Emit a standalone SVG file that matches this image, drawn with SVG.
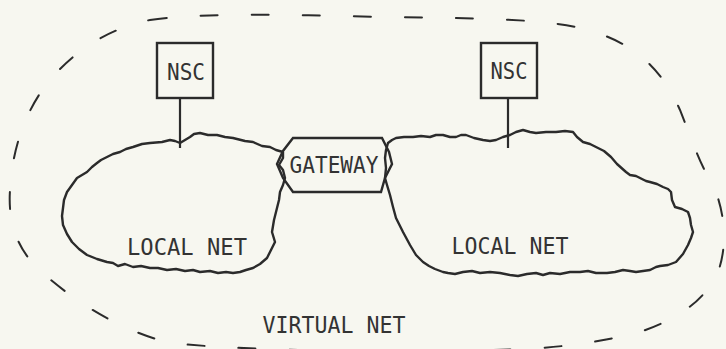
<svg xmlns="http://www.w3.org/2000/svg" width="726" height="349" viewBox="0 0 726 349">
<style>
.bg{fill:#f7f7f0}
.cloud{fill:none;stroke:#2b2b2b;stroke-width:2.4;stroke-linejoin:round;stroke-linecap:round}
.box{fill:none;stroke:#2b2b2b;stroke-width:2.4}
.dash{fill:none;stroke:#2b2b2b;stroke-width:2;stroke-dasharray:17 34;stroke-linecap:round}
.lbl{font-family:"DejaVu Sans Mono","Liberation Mono",monospace;font-size:23px;fill:#333;text-anchor:middle}
.conn{stroke:#2b2b2b;stroke-width:2.2}
</style>
<rect class="bg" x="0" y="0" width="726" height="349"/>
<g id="virtual-net">
<path class="dash" d="M150,20 C200,12 300,15 380,17 C460,18 540,18 580,28 C630,40 660,65 680,110 C692,140 700,165 712,183 C725,210 728,245 718,272 C705,300 680,318 640,332 C590,345 540,350 480,350 C400,352 260,352 170,343 C120,330 80,305 45,275 C15,250 8,220 10,190 C12,150 25,110 50,80 C75,50 110,28 150,20 Z"/>
<text class="lbl" x="334" y="333" textLength="143" lengthAdjust="spacingAndGlyphs">VIRTUAL NET</text>
</g>
<g id="local-net-left">
<path class="cloud" d="M283,152 L276,150 L270,147 L262,146 L253,142 L245,141 L233,138 L225,137 L217,135 L208,135 L200,133 L194,134 L190,137 L185,140 L180,143 L175,141 L170,140 L162,142 L150,143 L142,144 L133,147 L126,149 L120,152 L113,154 L107,157 L101,160 L97,163 L92,167 L87,172 L82,175 L77,178 L72,185 L67,192 L64,200 L63,208 L62,216 L63,225 L67,234 L72,242 L79,249 L87,255 L97,259 L107,262 L113,263 L118,266 L125,264 L133,267 L141,266 L150,268 L158,268 L167,270 L176,269 L185,271 L193,270 L200,272 L210,271 L218,273 L226,272 L233,273 L240,272 L246,270 L253,268 L260,264 L267,258 L271,250 L275,242 L272,232 L274,220 L277,208 L279,200 L280,192 L283,185 L285,178 L283,170 L279,165 L283,158 Z"/>
<text class="lbl" x="187" y="255" textLength="120" lengthAdjust="spacingAndGlyphs">LOCAL NET</text>
</g>
<g id="local-net-right">
<path class="cloud" d="M388,143 L392,140 L396,138 L404,137 L413,137 L421,136 L430,137 L436,135 L443,135 L450,137 L456,137 L461,135 L466,135 L474,138 L483,140 L490,141 L496,140 L503,137 L510,135 L516,132 L523,130 L530,132 L536,133 L546,132 L556,132 L565,131 L573,132 L577,137 L583,142 L590,144 L596,147 L604,151 L611,157 L617,164 L626,172 L630,175 L636,176 L640,178 L646,181 L650,182 L657,184 L663,187 L668,189 L671,192 L672,200 L675,207 L682,209 L688,212 L690,218 L691,225 L693,232 L691,238 L688,245 L683,254 L676,262 L668,265 L660,266 L656,267 L650,270 L643,271 L636,272 L630,271 L623,270 L615,272 L607,273 L596,273 L588,271 L580,272 L570,272 L560,274 L550,273 L543,275 L536,273 L527,274 L518,276 L510,275 L500,273 L490,272 L480,273 L472,271 L463,272 L455,274 L448,273 L443,272 L435,269 L429,266 L423,262 L416,255 L410,245 L403,232 L396,218 L393,207 L390,195 L387,185 L385,178 L386,168 L385,158 L386,150 Z"/>
<text class="lbl" x="510" y="254" textLength="117" lengthAdjust="spacingAndGlyphs">LOCAL NET</text>
</g>
<g id="gateway">
<path class="box" d="M293,138 L382,138 L389,152 L392,164 L385,178 L381,192 L293,192 L283,178 L277,164 L283,151 Z"/>
<text class="lbl" x="334" y="173" textLength="89" lengthAdjust="spacingAndGlyphs">GATEWAY</text>
</g>
<g id="nsc-left">
<rect class="box" x="157" y="43" width="56" height="55"/>
<text class="lbl" x="186" y="80" textLength="38" lengthAdjust="spacingAndGlyphs">NSC</text>
</g>
<g id="nsc-right">
<rect class="box" x="481" y="43" width="56" height="55"/>
<text class="lbl" x="509" y="79" textLength="37" lengthAdjust="spacingAndGlyphs">NSC</text>
</g>
<g id="connectors">
<line class="conn" x1="180" y1="98" x2="180" y2="148"/>
<line class="conn" x1="508" y1="98" x2="508" y2="148"/>
</g>
</svg>
